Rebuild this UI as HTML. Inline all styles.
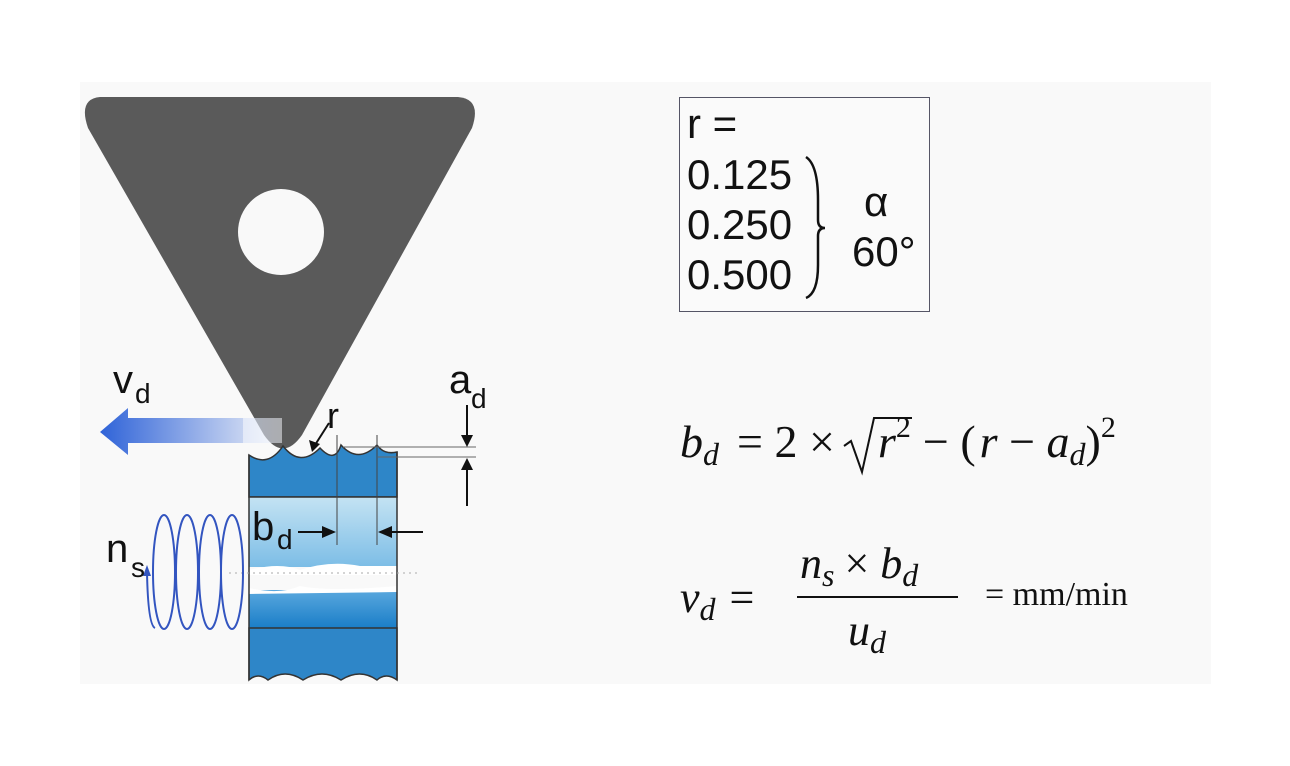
<!DOCTYPE html>
<html><head><meta charset="utf-8"><style>
body{margin:0;background:#fff;}
svg{display:block}
</style></head><body>
<svg width="1290" height="766" viewBox="0 0 1290 766" xmlns="http://www.w3.org/2000/svg">
<defs>
<linearGradient id="arr" x1="0" x2="1"><stop offset="0" stop-color="#2f63d8"/><stop offset="1" stop-color="#2f63d8" stop-opacity="0.05"/></linearGradient>
<linearGradient id="lb" x1="0" y1="0" x2="0" y2="1"><stop offset="0" stop-color="#c4e3f3"/><stop offset="1" stop-color="#7cbde6"/></linearGradient>
<linearGradient id="db" x1="0" y1="0" x2="0" y2="1"><stop offset="0" stop-color="#5aa8de"/><stop offset="1" stop-color="#1a7ec8"/></linearGradient>
</defs>
<rect x="80" y="82" width="1131" height="602" fill="#f9f9f9"/>
<path d="M100,97 L458,97 Q482,99 472,128 L302,435 Q283,462 264,435 L88,128 Q78,99 100,97 Z" fill="#5a5a5a"/>
<circle cx="281" cy="232" r="43" fill="#f9f9f9"/>
<path d="M249,455 Q268,468 283,446 Q300,468 320,448 Q335,464 341,445 Q358,464 377,445 Q384,455 397,452 L397,497 L249,497 Z" fill="#2e86c8" stroke="#333" stroke-width="1.5"/>
<rect x="249" y="497" width="148" height="70" fill="url(#lb)"/>
<path d="M249,567 L397,567 L397,590 L249,590 Z" fill="#f9f9f9"/>
<path d="M249,570 Q280,562 300,570 Q330,560 360,566 L397,566 L397,575 L249,575Z" fill="#fff"/>
<rect x="249" y="590" width="148" height="38" fill="url(#db)"/>
<path d="M249,588 Q280,595 300,586 Q330,592 397,586 L397,592 L249,594Z" fill="#fff"/>
<path d="M249,628 L397,628 L397,680 Q386,672 377,680 Q360,668 341,680 Q322,668 303,680 Q285,668 268,680 Q258,672 249,680 Z" fill="#2e86c8" stroke="#333" stroke-width="1.5"/>
<line x1="249" y1="497" x2="397" y2="497" stroke="#333" stroke-width="1.5"/>
<line x1="249" y1="455" x2="249" y2="680" stroke="#333" stroke-width="1.5"/>
<line x1="397" y1="452" x2="397" y2="680" stroke="#333" stroke-width="1.5"/>
<line x1="229" y1="573" x2="420" y2="573" stroke="#aaa" stroke-dasharray="2,4"/>
<line x1="337" y1="435" x2="337" y2="545" stroke="#444"/>
<line x1="377" y1="435" x2="377" y2="545" stroke="#444"/>
<line x1="343" y1="447" x2="476" y2="447" stroke="#666"/>
<line x1="378" y1="457" x2="476" y2="457" stroke="#666"/>
<path d="M467,405 V440" stroke="#111" stroke-width="2"/><path d="M461,435 L467,447 L473,435Z" fill="#111"/>
<path d="M467,468 V506" stroke="#111" stroke-width="2"/><path d="M461,470 L467,458 L473,470Z" fill="#111"/>
<path d="M298,532 H325" stroke="#111" stroke-width="2"/><path d="M322,526 L336,532 L322,538Z" fill="#111"/>
<path d="M390,532 H423" stroke="#111" stroke-width="2"/><path d="M392,526 L378,532 L392,538Z" fill="#111"/>
<path d="M329,423 L315,445" stroke="#111" stroke-width="2"/><path d="M309,440 L312,452 L320,444Z" fill="#111"/>
<path d="M100,432 L128,408 L128,418 L282,418 L282,443 L128,443 L128,455 Z" fill="url(#arr)"/>
<rect x="243" y="418" width="39" height="25" fill="#fff" fill-opacity="0.5"/>
<g fill="none" stroke="#3355c0" stroke-width="2">
<ellipse cx="164" cy="572" rx="11" ry="57"/>
<ellipse cx="187" cy="572" rx="11" ry="57"/>
<ellipse cx="210" cy="572" rx="11" ry="57"/>
<ellipse cx="232" cy="572" rx="11" ry="57"/>
<path d="M147,572 Q148,625 155,628"/>
</g>
<path d="M143,576 L147,565 L151,576Z" fill="#3355c0"/>
<g font-family="Liberation Sans, sans-serif" fill="#111">
<text x="113" y="393" font-size="40">v</text><text x="135" y="403" font-size="28">d</text>
<text x="449" y="393" font-size="40">a</text><text x="471" y="408" font-size="28">d</text>
<text x="327" y="428" font-size="36">r</text>
<text x="252" y="540" font-size="40">b</text><text x="277" y="549" font-size="28">d</text>
<text x="106" y="562" font-size="40">n</text><text x="131" y="577" font-size="28">s</text>
</g>
<rect x="679.5" y="97.5" width="250" height="214" fill="#fafafa" stroke="#556" stroke-width="1"/>
<g font-family="Liberation Sans, sans-serif" fill="#111" font-size="42">
<text x="687" y="138">r =</text>
<text x="687" y="189">0.125</text>
<text x="687" y="239">0.250</text>
<text x="687" y="289">0.500</text>
<text x="864" y="216">α</text>
<text x="852" y="266">60°</text>
</g>
<path d="M806,157 Q818,165 818,200 L818,220 Q818,228 825,228 Q818,228 818,236 L818,265 Q818,293 806,298" fill="none" stroke="#111" stroke-width="2.5"/>
<g font-family="Liberation Serif, serif" fill="#111">
<text x="680" y="457" font-size="46"><tspan font-style="italic">b</tspan><tspan font-style="italic" font-size="32" dy="8">d</tspan><tspan dy="-8" dx="18">= 2 ×</tspan></text>
<path d="M844,446 L851,441 L862,472 L874,418 L912,418" fill="none" stroke="#111" stroke-width="2"/>
<text x="878" y="457" font-size="46"><tspan font-style="italic">r</tspan><tspan font-size="30" dy="-20">2</tspan><tspan dy="20" dx="12">− (</tspan><tspan font-style="italic" dx="4">r</tspan><tspan> − </tspan><tspan font-style="italic">a</tspan><tspan font-style="italic" font-size="32" dy="8">d</tspan><tspan dy="-8">)</tspan><tspan font-size="30" dy="-20">2</tspan></text>
<text x="680" y="612" font-size="44"><tspan font-style="italic">v</tspan><tspan font-style="italic" font-size="32" dy="8">d</tspan><tspan dy="-8" dx="14">=</tspan></text>
<text x="800" y="578" font-size="44"><tspan font-style="italic">n</tspan><tspan font-style="italic" font-size="32" dy="8">s</tspan><tspan dy="-8" dx="10">× </tspan><tspan font-style="italic">b</tspan><tspan font-style="italic" font-size="32" dy="8">d</tspan></text>
<line x1="797" y1="597" x2="958" y2="597" stroke="#111" stroke-width="2"/>
<text x="848" y="645" font-size="44"><tspan font-style="italic">u</tspan><tspan font-style="italic" font-size="32" dy="8">d</tspan></text>
<text x="985" y="605" font-size="34">= mm/min</text>
</g>
</svg>
</body></html>
